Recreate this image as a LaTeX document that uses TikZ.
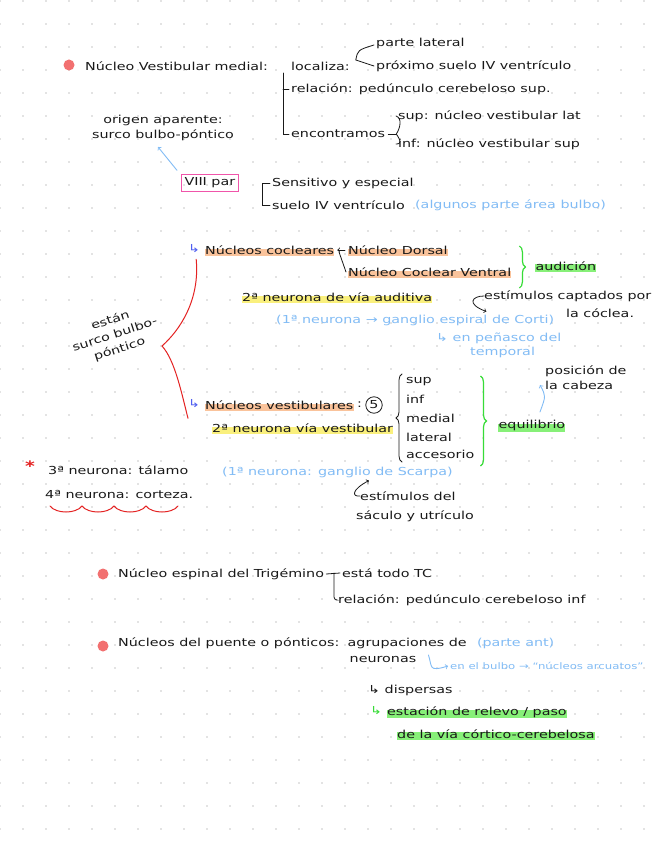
\documentclass[tikz,border=0pt]{standalone}
\usepackage{fontspec}
\setmainfont{DejaVu Sans}[FakeStretch=1.3]
\usetikzlibrary{positioning,calc,backgrounds,decorations.pathreplacing}
\definecolor{ink}{RGB}{25,25,25}
\definecolor{bluepen}{RGB}{130,188,245}
\definecolor{violetpen}{RGB}{80,95,240}
\definecolor{redpen}{RGB}{228,35,35}
\definecolor{greenpen}{RGB}{55,220,55}
\definecolor{hlorange}{RGB}{250,195,155}
\definecolor{hlyellow}{RGB}{250,240,125}
\definecolor{hlgreen}{RGB}{135,240,120}
\definecolor{dotred}{RGB}{242,112,112}
\definecolor{pinkbox}{RGB}{240,85,170}
\definecolor{dotgray}{RGB}{200,200,200}
\newcommand{\handfont}{\fontsize{11}{15}\selectfont}

\begin{document}
\begin{tikzpicture}[x=1pt,y=-1pt,
  txt/.style={anchor=west,inner sep=0pt,text=ink,font=\handfont},
  note/.style={txt,text=bluepen},
  bul/.style={circle,fill=dotred,inner sep=0pt,minimum size=11pt},
  hlor/.style={line width=7pt,hlorange},
  hlye/.style={line width=7pt,hlyellow},
  hlgr/.style={line width=8pt,hlgreen},
  pen/.style={ink,line width=0.8pt,line cap=round},
  bluestroke/.style={bluepen,line width=0.9pt,line cap=round},
  gbrace/.style={greenpen,line width=1.2pt,decorate,decoration={brace,amplitude=6pt}},
]
\useasboundingbox (0,0) rectangle (656,848);

% nucleo vestibular medial
\node[bul] (b1) at (69,65) {};
\node[txt] (nvm) at (85,66) {Núcleo Vestibular medial:};
\node[txt] (loc) at (291,66) {localiza:};
\node[txt] (parte) at (376,43) {parte lateral};
\node[txt] (prox) at (376,66) {próximo suelo IV ventrículo};
\node[txt] (rel) at (291,89) {relación: pedúnculo cerebeloso sup.};
\node[txt] (enc) at (291,134) {encontramos};
\node[txt] (sup) at (398,116) {sup: núcleo vestibular lat};
\node[txt] (inf) at (398,144) {inf: núcleo vestibular sup};
\node[txt,anchor=center,align=center] (orig) at (163,128) {origen aparente:\\surco bulbo-póntico};

\node[txt,draw=pinkbox,line width=1pt,inner sep=3pt] (viii) at (181,183) {VIII par};
\node[txt] (sens) at (272,183) {Sensitivo y especial};
\node[txt] (suelo) at (272,205) {suelo IV ventrículo};
\node[note,right=10pt of suelo] (algunos) {(algunos parte área bulbo)};

% cocleares
\node[txt,text=violetpen] (cocm) at (188,249) {↳};
\node[txt] (coc) at (205,250) {Núcleos cocleares};
\node[txt] (dors) at (348,250) {Núcleo Dorsal};
\node[txt] (vent) at (348,272) {Núcleo Coclear Ventral};
\node[txt] (aud) at ($(vent.east)+(24,-6)$) {audición};
\node[txt] (n2a) at (242,297) {2ª neurona de vía auditiva};
\node[txt] (estc) at (484,296) {estímulos captados por};
\node[txt] (cocl) at (566,313) {la cóclea.};
\node[note] (gang) at (276,320) {(1ª neurona → ganglio espiral de Corti)};
\node[note] (pen) at (436,338) {↳ en peñasco del};
\node[note] (temp) at (470,352) {temporal};
\node[txt,anchor=center,align=center,rotate=18] (estan) at (115,335) {están\\surco bulbo-\\póntico};

% vestibulares
\node[txt,text=violetpen] (vesm) at (188,404) {↳};
\node[txt] (ves) at (205,405) {Núcleos vestibulares};
\node[txt] (colon) at (357,405) {:};
\node[txt,anchor=center,circle,draw=ink,line width=0.8pt,inner sep=1.5pt] (cinco) at (374,405) {5};
\foreach \nm/\yy/\tx in {vsup/382/sup, vinf/399/inf, vmed/418/medial, vlat/437/lateral, vacc/454/accesorio}
  \node[txt] (\nm) at (406,\yy) {\tx};
\coordinate (gtop) at ($(vacc.east |- vsup.west)+(6,-6)$);
\coordinate (gbot) at ($(vacc.east)+(6,12)$);
\node[txt] (equ) at ($(gtop)!0.55!(gbot)+(18,0)$) {equilibrio};
\node[txt,align=left] (pos) at (545,378) {posición de\\la cabeza};
\node[txt] (n2v) at (212,428) {2ª neurona vía vestibular};
\node[txt,text=redpen,font=\bfseries\Large] (ast) at (25,466) {*};
\node[txt] (ter) at (48,470) {3ª neurona: tálamo};
\node[txt] (cua) at (45,494) {4ª neurona: corteza.};
\node[note] (scar) at (222,472) {(1ª neurona: ganglio de Scarpa)};
\node[txt] (estv) at (360,496) {estímulos del};
\node[txt] (sac) at (356,516) {sáculo y utrículo};

% trigemino
\node[bul] (b2) at (103,574) {};
\node[txt] (trig) at (118,574) {Núcleo espinal del Trigémino};
\node[txt] (esta) at (342,573) {está todo TC};
\node[txt] (relinf) at (338,600) {relación: pedúnculo cerebeloso inf};

% puente
\node[bul] (b3) at (103,646) {};
\node[txt] (pont) at (118,643) {Núcleos del puente o pónticos:};
\node[txt,right=8pt of pont] (agr) {agrupaciones de};
\node[txt] (neu) at ($(agr.west)+(2,16)$) {neuronas};
\node[note,right=10pt of agr] (pant) {(parte ant)};
\node[note,font=\fontsize{9}{11}\selectfont] (bulbo) at (450,666) {en el bulbo → “núcleos arcuatos”};
\node[txt] (disp) at (368,690) {↳ dispersas};
\node[txt,text=greenpen] (estm) at (370,711) {↳};
\node[txt] (estr) at (387,712) {estación de relevo / paso};
\node[txt] (via) at (397,734) {de la vía córtico-cerebelosa};

% brackets and arrows
\draw[pen] ($(loc.west)+(-8,7)$) |- ([xshift=-2pt]enc.west);
\draw[pen] ($(loc.west)+(-8,23)$) -- ([xshift=-2pt]rel.west);
\coordinate (lf) at ($(loc.east)+(6,-6)$);
\draw[pen] ([xshift=-2pt,yshift=-2pt]parte.west) .. controls ($(lf)+(2,-10)$) .. (lf) -- ([xshift=-2pt]prox.west);
\draw[pen] ([xshift=3pt]enc.east) -- ++(8,0) coordinate (ef);
\draw[pen] ([xshift=-2pt]sup.west) .. controls ($(ef)+(6,-16)$) and ($(ef)+(4,-6)$) .. (ef) .. controls ($(ef)+(4,6)$) and ($(ef)+(6,10)$) .. ([xshift=-2pt]inf.west);
\draw[bluestroke,->] ([xshift=-4pt,yshift=4pt]viii.north west) .. controls (168,158) .. ($(orig.south)+(-5,6)$);
\draw[pen] ([xshift=-2pt]sens.west) -- ++(-8,0) |- ([xshift=-2pt]suelo.west);

\draw[pen,->] ([xshift=-3pt]dors.west) -- ([xshift=3pt]coc.east);
\draw[pen] ($(dors.west)+(-9,2)$) -- ([xshift=-2pt]vent.west);
\draw[gbrace] ($(vent.east)+(8,-26)$) -- ($(vent.east)+(8,16)$);
\draw[pen,->] (estc.west) .. controls ($(estc.west)+(-12,0)$) and ($(estc.west)+(-18,8)$) .. ($(gang.north east)+(-68,-3)$);

\coordinate (rtip) at (162,346);
\draw[redpen,line width=1pt,line cap=round] ($(cocm.south)+(2,6)$) .. controls (200,300) and (180,330) .. (rtip) .. controls (175,360) and (182,395) .. ($(vesm.south west)+(0,10)$);

\draw[pen,decorate,decoration={brace,amplitude=6pt}] ($(vacc.west)+(-4,8)$) -- ($(vsup.west)+(-4,-8)$);
\draw[gbrace] (gtop) -- (gbot);
\draw[bluestroke,->] ($(equ.north)+(8,-8)$) .. controls ($(equ.north)+(14,-24)$) .. ($(pos.west)+(-5,7)$);
\foreach \i in {0,...,3}
  \draw[redpen,line width=1pt,line cap=round] (50+32*\i,506) .. controls (56+32*\i,514) and (76+32*\i,514) .. (82+32*\i,506);
\draw[pen,->] (estv.west) .. controls ($(estv.west)+(-8,1)$) and ($(estv.west)+(-9,-6)$) .. ($(scar.south east)+(-84,3)$);

\draw[pen] ([xshift=2pt]trig.east) -- ([xshift=-2pt]esta.west);
\draw[pen,rounded corners=3pt] ($(esta.west)+(-8,0)$) |- ([xshift=-2pt]relinf.west);
\draw[bluestroke,->] ($(neu.east)+(12,-4)$) .. controls ($(neu.east)+(16,8)$) and ($(bulbo.west)+(-22,6)$) .. ([xshift=-2pt]bulbo.west);

\begin{scope}[on background layer]
\fill[white] (0,0) rectangle (656,848);
\foreach \i in {0,...,28}
  \foreach \j in {0,...,36}
    \fill[dotgray] (23*\i,23*\j+1) circle (0.9);
\foreach \nd in {coc,dors,vent,ves}
  \draw[hlor] ([yshift=-2pt]\nd.west) -- ([yshift=-2pt]\nd.east);
\foreach \nd in {n2a,n2v}
  \draw[hlye] ([yshift=-2pt]\nd.west) -- ([yshift=-2pt]\nd.east);
\foreach \nd in {aud,equ,estr,via}
  \draw[hlgr] ([yshift=-2pt]\nd.west) -- ([yshift=-2pt]\nd.east);
\end{scope}
\end{tikzpicture}
\end{document}
